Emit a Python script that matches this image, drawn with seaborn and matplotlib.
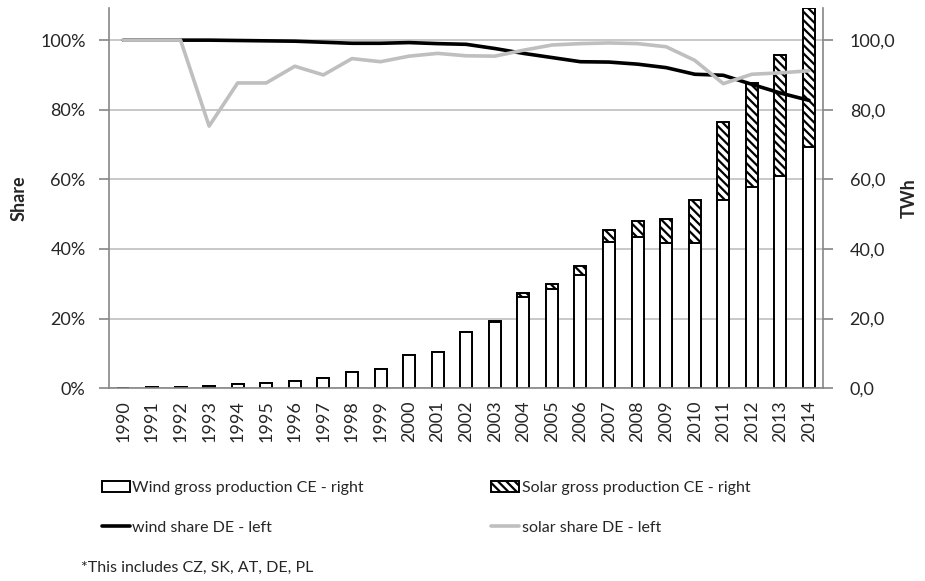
import numpy as np
import pandas as pd
import matplotlib
matplotlib.use('Agg')
import matplotlib.pyplot as plt
from matplotlib.ticker import FuncFormatter, FixedLocator
import seaborn as sns

# datos
years = [str(y) for y in range(1990, 2015)]
wind_twh = [0.1, 0.2, 0.3, 0.6, 1.3, 1.6, 2.0, 3.0, 4.5, 5.6, 9.4, 10.5, 16.2, 19.0,
            26.2, 28.4, 32.5, 42.1, 43.4, 41.7, 41.6, 54.2, 57.9, 61.1, 69.4]
solar_twh = [0.0, 0.0, 0.0, 0.0, 0.0, 0.0, 0.0, 0.0, 0.0, 0.0, 0.0, 0.0, 0.0, 0.3,
             1.0, 1.6, 2.5, 3.3, 4.5, 6.9, 12.5, 22.4, 29.7, 34.6, 39.8]
wind_share = [1.000, 1.000, 1.000, 1.000, 0.999, 0.998, 0.997, 0.994, 0.991, 0.991,
              0.993, 0.990, 0.988, 0.976, 0.962, 0.950, 0.938, 0.937, 0.931, 0.921,
              0.902, 0.899, 0.873, 0.848, 0.827]
solar_share = [1.000, 1.000, 1.000, 0.753, 0.877, 0.877, 0.925, 0.900, 0.947, 0.938,
               0.954, 0.962, 0.955, 0.954, 0.971, 0.986, 0.990, 0.992, 0.990, 0.981,
               0.942, 0.875, 0.902, 0.906, 0.912]

df = pd.DataFrame({'year': years, 'wind': wind_twh, 'solar': solar_twh,
                   'wind_share': wind_share, 'solar_share': solar_share})
df['total'] = df['wind'] + df['solar']
df['pos'] = np.arange(len(df))

sns.set_style('white')
plt.rcParams['font.family'] = ['Lato', 'DejaVu Sans']
plt.rcParams['hatch.linewidth'] = 1.6
plt.rcParams['hatch.color'] = 'black'

fig = plt.figure(figsize=(9.25, 5.81), dpi=100)
ax = fig.add_axes([0.118, 0.332, 0.772, 0.654])

# barras (eje derecho): primero el total con trama, luego el viento encima
sns.barplot(data=df, x='year', y='total', color='white', saturation=1,
            edgecolor='black', linewidth=1.4, hatch='\\\\\\\\', width=0.42,
            ax=ax, label='Solar gross production CE - right')
sns.barplot(data=df, x='year', y='wind', color='white', saturation=1,
            edgecolor='black', linewidth=1.4, width=0.42,
            ax=ax, label='Wind gross production CE - right')

# lineas (eje izquierdo)
ax2 = ax.twinx()
sns.lineplot(data=df, x='pos', y='wind_share', color='black', lw=2.6, ax=ax2,
             label='wind share DE - left')
sns.lineplot(data=df, x='pos', y='solar_share', color='#bfbfbf', lw=2.6, ax=ax2,
             label='solar share DE - left')
if ax2.get_legend() is not None:
    ax2.get_legend().remove()
if ax.get_legend() is not None:
    ax.get_legend().remove()

ax.set_ylim(0, 109.2)
ax.set_xlim(-0.5, len(years) - 0.5)
ax.yaxis.set_major_locator(FixedLocator([0, 20, 40, 60, 80, 100]))
ax.yaxis.set_major_formatter(FuncFormatter(lambda v, p: f'{v:.1f}'.replace('.', ',')))
ax.yaxis.tick_right()
ax.yaxis.set_label_position('right')
ax.set_ylabel('TWh', fontsize=13, fontweight='bold', labelpad=4)
ax.set_xlabel('')
ax.yaxis.grid(True, color='#bfbfbf', lw=1.2)
ax.set_axisbelow(True)

ax.set_xticks(df['pos'])
ax.set_xticklabels(years, rotation=90, fontsize=13)
ax.xaxis.set_minor_locator(FixedLocator(np.arange(-0.5, len(years), 1)))
ax.tick_params(axis='x', which='major', length=0, pad=9)
ax.tick_params(axis='x', which='minor', length=7, color='#868686', width=1.2, direction='out')
ax.tick_params(axis='y', length=7, color='#868686', width=1.2, direction='out', labelsize=13, pad=12)

for s in ['left', 'right', 'bottom']:
    ax.spines[s].set_color('#868686')
    ax.spines[s].set_linewidth(1.2)
ax.spines['top'].set_visible(False)

ax2.set_ylim(0, 1.092)
ax2.set_xlim(-0.5, len(years) - 0.5)
ax2.yaxis.set_major_locator(FixedLocator([0, 0.2, 0.4, 0.6, 0.8, 1.0]))
ax2.yaxis.set_major_formatter(FuncFormatter(lambda v, p: f'{v*100:.0f}%'))
ax2.yaxis.tick_left()
ax2.yaxis.set_label_position('left')
ax2.set_ylabel('Share', fontsize=13, fontweight='bold', labelpad=9)
ax2.tick_params(axis='y', length=7, color='#868686', width=1.2, direction='out', labelsize=13, pad=10)
for s in ax2.spines.values():
    s.set_visible(False)

# leyenda
h1, l1 = ax.get_legend_handles_labels()
h2, l2 = ax2.get_legend_handles_labels()
hd = dict(zip(l1 + l2, h1 + h2))
order = ['Wind gross production CE - right', 'wind share DE - left',
         'Solar gross production CE - right', 'solar share DE - left']
fig.legend([hd[k] for k in order], order, ncol=2, loc='upper left',
           bbox_to_anchor=(0.103, 0.183), frameon=False, fontsize=11.5,
           handlelength=1.75, handletextpad=0.15, columnspacing=8.0,
           labelspacing=1.6, borderaxespad=0)

fig.text(0.088, 0.016, '*This includes CZ, SK, AT, DE, PL', fontsize=11.5)

fig.savefig('out.png', dpi=100)
